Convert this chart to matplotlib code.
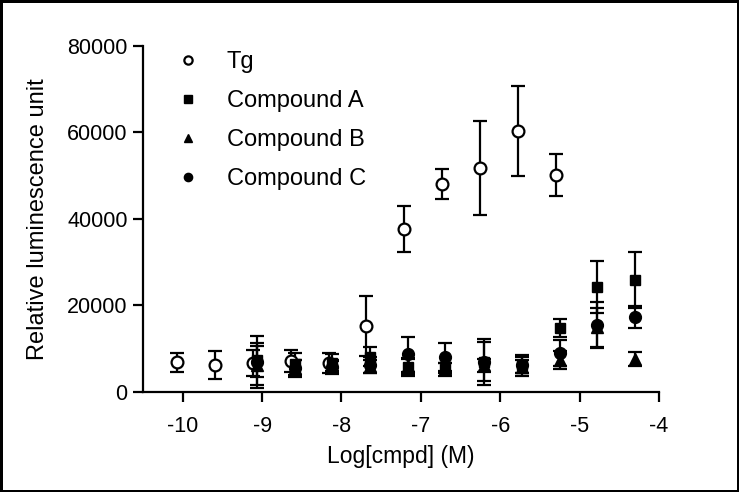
import numpy as np
import matplotlib.pyplot as plt

plt.rcParams['font.family'] = ['Liberation Sans', 'DejaVu Sans']

# log concentrations (3-fold dilutions)
x_tg = [-10.07, -9.59, -9.12, -8.64, -8.16, -7.69, -7.21, -6.73, -6.26, -5.78, -5.30]
x_cmpd = [-9.07, -8.59, -8.12, -7.64, -7.16, -6.69, -6.21, -5.73, -5.25, -4.78, -4.30]

tg = [6900, 6200, 6700, 7200, 6700, 15300, 37700, 48100, 51800, 60300, 50200]
tg_err = [2200, 3200, 3000, 2500, 2300, 7000, 5400, 3400, 10900, 10400, 4800]

cmpd_a = [7400, 6500, 6800, 8200, 5800, 5300, 6900, 6200, 14800, 24300, 25900]
cmpd_a_err = [4000, 2500, 2000, 2300, 2000, 1500, 5300, 2400, 2100, 6000, 6500]

cmpd_b = [6200, 5600, 5700, 6000, 5900, 5600, 6200, 5800, 7400, 15000, 7600]
cmpd_b_err = [4500, 1800, 1500, 1500, 1800, 1200, 1500, 1500, 2000, 4500, 1600]

cmpd_c = [7000, 5500, 5800, 6200, 8700, 8100, 7000, 6200, 9000, 15500, 17300]
cmpd_c_err = [6000, 2000, 1500, 1800, 4000, 3200, 4500, 1800, 3000, 5300, 2500]

fig = plt.figure(figsize=(7.39, 4.92), dpi=100)
fig.patch.set_edgecolor('black')
fig.patch.set_linewidth(2.5)
ax = fig.add_axes([0.1935, 0.2033, 0.6982, 0.7032])

eb = dict(capsize=5, capthick=1.6, elinewidth=1.6, ecolor='black', linestyle='none')
ax.errorbar(x_tg, tg, yerr=tg_err, marker='o', markersize=8.5, mfc='white',
            mec='black', mew=1.6, label='Tg', **eb)
ax.errorbar(x_cmpd, cmpd_a, yerr=cmpd_a_err, marker='s', markersize=7.5, color='black',
            label='Compound A', **eb)
ax.errorbar(x_cmpd, cmpd_b, yerr=cmpd_b_err, marker='^', markersize=8, color='black',
            label='Compound B', **eb)
ax.errorbar(x_cmpd, cmpd_c, yerr=cmpd_c_err, marker='o', markersize=8.5, color='black',
            label='Compound C', **eb)

ax.set_xlim(-10.5, -4)
ax.set_ylim(0, 80000)
ax.set_xticks(np.arange(-10, -3, 1))
ax.set_yticks(np.arange(0, 80001, 20000))
ax.set_xticklabels([str(v) for v in range(-10, -3)])

ax.spines['top'].set_visible(False)
ax.spines['right'].set_visible(False)
ax.spines['left'].set_linewidth(1.6)
ax.spines['bottom'].set_linewidth(1.6)
ax.tick_params(direction='out', length=7, width=1.6, labelsize=15.5)
ax.tick_params(axis='x', pad=10)
ax.tick_params(axis='y', pad=4)

ax.set_xlabel('Log[cmpd] (M)', fontsize=16.5, labelpad=6)
ax.set_ylabel('Relative luminescence unit', fontsize=17, labelpad=13)

handles, labels = ax.get_legend_handles_labels()
handles = [h[0] for h in handles]
ax.legend(handles, labels, loc='upper left', bbox_to_anchor=(0.023, 1.013), frameon=False,
          fontsize=17, handletextpad=0.65, labelspacing=0.72, borderaxespad=0,
          markerscale=0.7)

fig.savefig('out.png', dpi=100)
